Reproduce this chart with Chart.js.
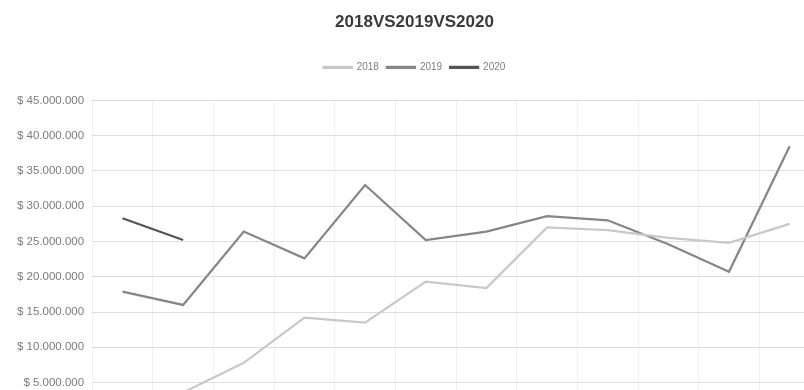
<!DOCTYPE html>
<html>
<head>
<meta charset="utf-8">
<script src="https://cdn.jsdelivr.net/npm/chart.js@4"></script>
<style>
  html, body { margin: 0; padding: 0; background: #fff; overflow: hidden; }
  #wrap { position: relative; width: 830px; height: 451px; }
</style>
</head>
<body>
<div id="wrap"><canvas id="salesChart"></canvas></div>
<script>
// months (the axis labels fall below the visible crop)
const months = ['enero', 'febrero', 'marzo', 'abril', 'mayo', 'junio',
  'julio', 'agosto', 'septiembre', 'octubre', 'noviembre', 'diciembre'];

const sales2018 = [2000000, 3600000, 7800000, 14200000, 13500000, 19300000,
  18400000, 27000000, 26600000, 25500000, 24800000, 27500000];
const sales2019 = [17900000, 16000000, 26400000, 22600000, 33000000, 25200000,
  26400000, 28600000, 28000000, 24600000, 20700000, 38500000];
const sales2020 = [28300000, 25200000, null, null, null, null,
  null, null, null, null, null, null];

const yTicks = [0, 5000000, 10000000, 15000000, 20000000, 25000000,
  30000000, 35000000, 40000000, 45000000];

// "$ 45.000.000" style
function pesos(v) {
  return '$ ' + Math.round(v).toString().replace(/\B(?=(\d{3})+(?!\d))/g, '.');
}

// extra room under the legend
const legendGap = {
  id: 'legendGap',
  beforeInit(chart) {
    const fit = chart.legend.fit;
    chart.legend.fit = function () {
      fit.call(this);
      this.height += 18;
    };
  }
};

const ctx = document.getElementById('salesChart').getContext('2d');

new Chart(ctx, {
  type: 'line',
  data: {
    labels: months,
    datasets: [
      { label: '2018', data: sales2018, borderColor: '#c8c8c8', backgroundColor: '#c8c8c8' },
      { label: '2019', data: sales2019, borderColor: '#868686', backgroundColor: '#868686' },
      { label: '2020', data: sales2020, borderColor: '#555555', backgroundColor: '#555555' }
    ]
  },
  plugins: [legendGap],
  options: {
    responsive: true,
    maintainAspectRatio: false,
    animation: false,
    layout: { padding: { left: 9, right: 10, top: 4, bottom: 4 } },
    elements: {
      line: { borderWidth: 2.25, tension: 0 },
      point: { radius: 0, hoverRadius: 0 }
    },
    plugins: {
      title: {
        display: true,
        text: '2018VS2019VS2020',
        color: '#3a3a3a',
        font: { family: 'Liberation Sans', size: 17, weight: 'bold' },
        padding: { top: 8, bottom: 22 }
      },
      legend: {
        position: 'top',
        labels: {
          color: '#808080',
          font: { family: 'Liberation Sans', size: 10 },
          boxWidth: 28,
          boxHeight: 1,
          padding: 8
        }
      },
      tooltip: { enabled: false }
    },
    scales: {
      x: {
        offset: true,
        grid: { offset: true, color: '#f0f0f0', drawTicks: false },
        border: { display: false },
        ticks: { color: '#808080', font: { family: 'Liberation Sans', size: 11 }, padding: 8 }
      },
      y: {
        min: 0,
        max: 45000000,
        afterBuildTicks: axis => { axis.ticks = yTicks.map(v => ({ value: v })); },
        grid: { color: '#dedede', drawTicks: false },
        border: { display: false },
        ticks: {
          color: '#7a7a7a',
          font: { family: 'Liberation Sans', size: 11.5 },
          padding: 8,
          callback: v => pesos(v)
        }
      }
    }
  }
});
</script>
</body>
</html>
